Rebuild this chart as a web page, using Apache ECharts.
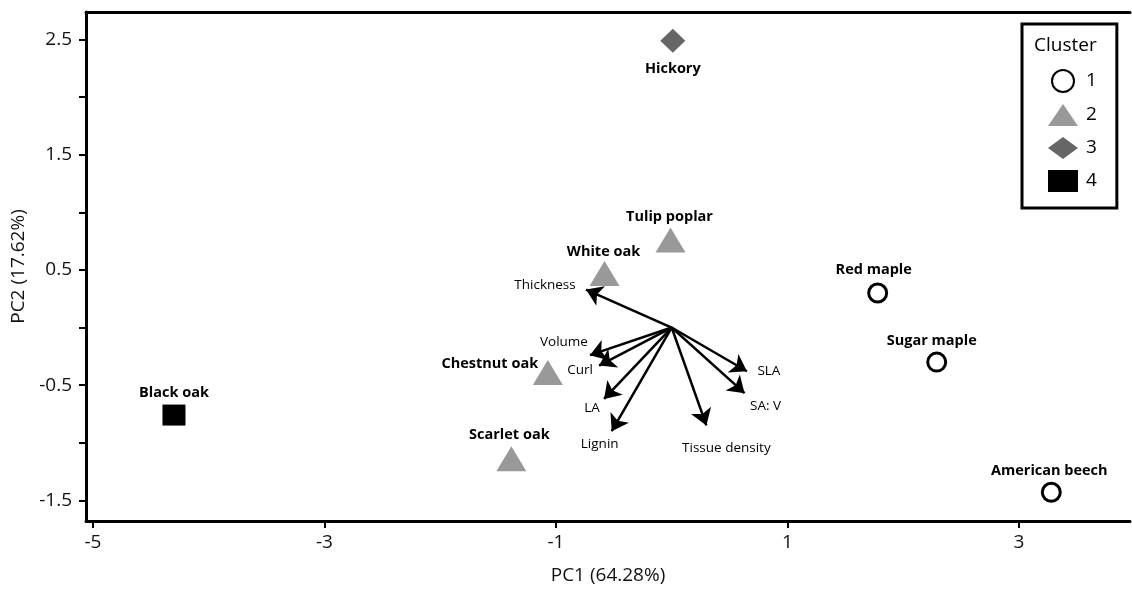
<!DOCTYPE html>
<html><head><meta charset="utf-8">
<script src="https://cdn.jsdelivr.net/npm/echarts@6/dist/echarts.min.js"></script>
<style>html,body{margin:0;padding:0;background:#fff}#c{width:1132px;height:590px}</style>
</head><body><div id="c"></div>
<script>
// ---- data ----
const speciesNames = ['Hickory','Tulip poplar','White oak','Chestnut oak','Scarlet oak','Black oak','Red maple','Sugar maple','American beech'];
const speciesPC1 = [0.01, -0.01, -0.58, -1.07, -1.385, -4.30, 1.78, 2.29, 3.28];
const speciesPC2 = [2.49, 0.76, 0.47, -0.39, -1.14, -0.76, 0.30, -0.30, -1.43];
const speciesCluster = [3, 2, 2, 2, 2, 4, 1, 1, 1];
const clusterNames = ['1', '2', '3', '4'];
const traitNames = ['Thickness','Volume','Curl','LA','Lignin','Tissue density','SLA','SA: V'];
const traitPC1 = [-0.74, -0.706, -0.627, -0.584, -0.518, 0.30, 0.65, 0.63];
const traitPC2 = [0.33, -0.24, -0.33, -0.62, -0.90, -0.85, -0.38, -0.57];
const xTicks = [-5, -3, -1, 1, 3];
const yTicks = [-1.5, -1, -0.5, 0, 0.5, 1, 1.5, 2, 2.5];
const yLabels = [-1.5, -0.5, 0.5, 1.5, 2.5];

// ---- styles ----
const FONT = 'Open Sans';
const speciesLabelOffset = {
  'Hickory': [0, 28], 'Tulip poplar': [-1, -23], 'White oak': [-1, -22],
  'Chestnut oak': [-58, -9], 'Scarlet oak': [-2, -24], 'Black oak': [0, -22],
  'Red maple': [-4, -23], 'Sugar maple': [-5, -21], 'American beech': [-2, -21]
};
const traitLabelOffset = {
  'Thickness': [-41, -4], 'Volume': [-26, -13], 'Curl': [-19, 5], 'LA': [-12, 9],
  'Lignin': [-12, 13], 'Tissue density': [20, 23], 'SLA': [22, 0], 'SA: V': [21, 13]
};
const clusterStyle = {
  '1': { symbol: 'circle', symbolSize: 18, itemStyle: { color: '#fff', borderColor: '#000', borderWidth: 3, opacity: 1 } },
  '2': { symbol: 'triangle', symbolSize: [30, 25], itemStyle: { color: '#999999', opacity: 1 } },
  '3': { symbol: 'diamond', symbolSize: [25, 24], itemStyle: { color: '#666666', opacity: 1 } },
  '4': { symbol: 'rect', symbolSize: [23, 21], itemStyle: { color: '#000', opacity: 1 } }
};

const clusterSeries = clusterNames.map(function (cn) {
  const data = [];
  speciesNames.forEach(function (n, i) {
    if (String(speciesCluster[i]) === cn) {
      data.push({ name: n, value: [speciesPC1[i], speciesPC2[i]], label: { offset: speciesLabelOffset[n] } });
    }
  });
  return Object.assign({
    name: cn, type: 'scatter', z: 5,
    label: { show: true, position: 'inside', formatter: '{b}', fontFamily: FONT, fontWeight: 'bold', fontSize: 14.5, color: '#000', textBorderWidth: 0 },
    data: data
  }, clusterStyle[cn]);
});

const arrowSeries = {
  type: 'lines', coordinateSystem: 'cartesian2d', z: 3, silent: true,
  symbol: ['none', 'arrow'], symbolSize: 16,
  lineStyle: { color: '#000', width: 2.5, opacity: 1 },
  data: traitNames.map(function (n, i) { return { coords: [[0, 0], [traitPC1[i], traitPC2[i]]] }; })
};
const traitLabelSeries = {
  type: 'scatter', symbolSize: 0, z: 4, silent: true,
  itemStyle: { opacity: 1 },
  label: { show: true, position: 'inside', formatter: '{b}', fontFamily: FONT, fontSize: 13.5, color: '#000', textBorderWidth: 0, opacity: 1 },
  data: traitNames.map(function (n, i) { return { name: n, value: [traitPC1[i], traitPC2[i]], label: { offset: traitLabelOffset[n] } }; })
};

const axisLineStyle = { color: '#000', width: 3 };
const option = {
  animation: false,
  backgroundColor: '#fff',
  title: { text: 'Cluster', left: 1034, top: 36, padding: 0, textStyle: { fontFamily: FONT, fontSize: 19, fontWeight: 'normal', color: '#000' } },
  legend: {
    data: clusterNames, orient: 'vertical', left: 1022, top: 24,
    borderColor: '#000', borderWidth: 3, padding: [45, 20, 16, 26],
    itemGap: 11, itemWidth: 30, itemHeight: 22,
    textStyle: { fontFamily: FONT, fontSize: 19, color: '#000', padding: [0, 0, 0, 3] }
  },
  grid: { left: 86, right: 2, top: 12, bottom: 67 },
  xAxis: [{
    type: 'value', min: -5.06, max: 3.96, position: 'bottom',
    axisLine: { show: true, onZero: false, lineStyle: axisLineStyle },
    axisTick: { show: true, customValues: xTicks, length: 7, lineStyle: { color: '#000', width: 2 } },
    axisLabel: { customValues: xTicks, fontFamily: FONT, fontSize: 19, color: '#111', margin: 12 },
    splitLine: { show: false },
    name: 'PC1 (64.28%)', nameLocation: 'middle', nameGap: 45,
    nameTextStyle: { fontFamily: FONT, fontSize: 19, color: '#111' }
  }, {
    type: 'value', min: -5.06, max: 3.96, position: 'top',
    axisLine: { show: true, onZero: false, lineStyle: axisLineStyle },
    axisTick: { show: false }, axisLabel: { show: false }, splitLine: { show: false }
  }],
  yAxis: [{
    type: 'value', min: -1.68, max: 2.74, position: 'left',
    axisLine: { show: true, onZero: false, lineStyle: axisLineStyle },
    axisTick: { show: true, customValues: yTicks, length: 7, lineStyle: { color: '#000', width: 2 } },
    axisLabel: { customValues: yLabels, fontFamily: FONT, fontSize: 19, color: '#111', margin: 14 },
    splitLine: { show: false },
    name: 'PC2 (17.62%)', nameLocation: 'middle', nameGap: 52, nameRotate: 90,
    nameTextStyle: { fontFamily: FONT, fontSize: 19, color: '#111' }
  }],
  series: [arrowSeries, traitLabelSeries].concat(clusterSeries)
};
const chart = echarts.init(document.getElementById('c'), null, { renderer: 'canvas' });
chart.setOption(option);
</script>
</body></html>
